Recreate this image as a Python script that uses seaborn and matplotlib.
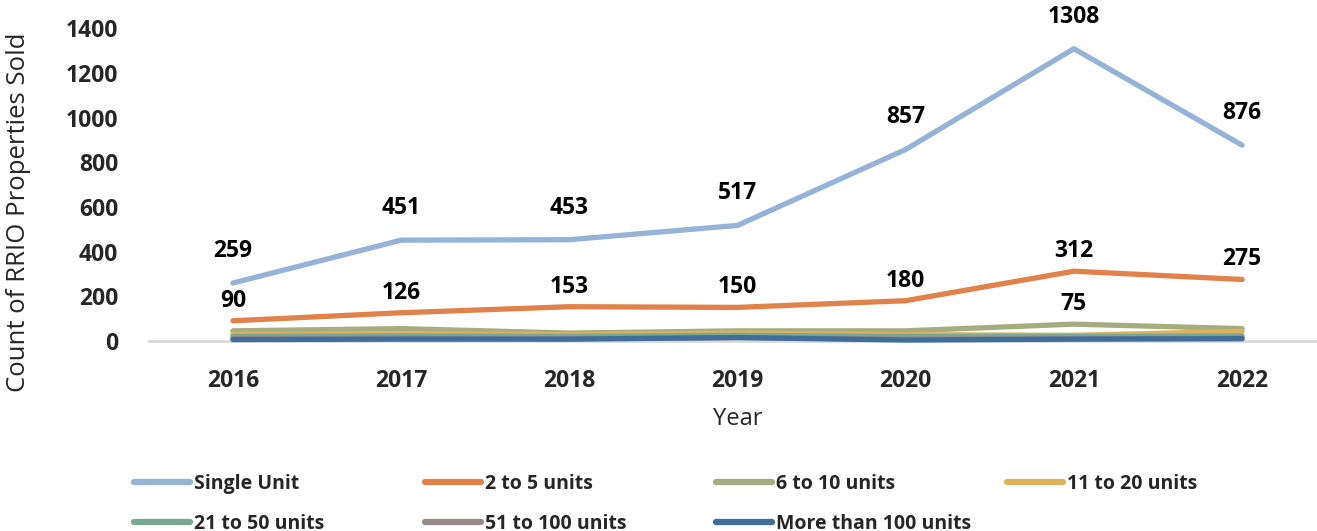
import numpy as np
import pandas as pd
import matplotlib
matplotlib.use("Agg")
import matplotlib.pyplot as plt
import seaborn as sns

years = [2016, 2017, 2018, 2019, 2020, 2021, 2022]
series_names = ["Single Unit", "2 to 5 units", "6 to 10 units", "11 to 20 units",
                "21 to 50 units", "51 to 100 units", "More than 100 units"]
single_unit = [259, 451, 453, 517, 857, 1308, 876]
units_2_5 = [90, 126, 153, 150, 180, 312, 275]
units_6_10 = [45, 55, 35, 45, 45, 75, 55]
units_11_20 = [30, 32, 28, 35, 28, 25, 43]
units_21_50 = [20, 22, 20, 25, 20, 20, 22]
units_51_100 = [10, 12, 10, 15, 8, 10, 12]
units_100_plus = [6, 8, 8, 15, 4, 8, 10]
colors = ["#95B3D7", "#E0824A", "#A5AC80", "#DDB25B", "#7AA897", "#978A88", "#3E6E99"]

all_vals = [single_unit, units_2_5, units_6_10, units_11_20, units_21_50, units_51_100, units_100_plus]
rows = []
for name, vals in zip(series_names, all_vals):
    for y, v in zip(years, vals):
        rows.append({"Year": y, "Count": v, "Type": name})
df = pd.DataFrame(rows)

sns.set_theme(style="white")
plt.rcParams["font.family"] = ["Open Sans", "DejaVu Sans"]

fig = plt.figure(figsize=(13.17, 5.31), dpi=100)
ax = fig.add_axes([0.113, 0.358, 0.894, 0.589])

sns.lineplot(data=df, x="Year", y="Count", hue="Type", hue_order=series_names,
             palette=colors, linewidth=3.8, ax=ax, legend=False, zorder=3)
for line in ax.lines:
    line.set_clip_on(False)
    line.set_solid_capstyle("round")
    line.set_solid_joinstyle("round")

ax.set_xlim(2015.5, 2022.5)
ax.set_ylim(0, 1400)
ax.set_yticks(range(0, 1401, 200))
ax.set_xticks(years)
ax.tick_params(axis="x", length=0, pad=20, labelsize=16.5)
ax.tick_params(axis="y", length=0, pad=22, labelsize=16.5)
for t in ax.get_xticklabels() + ax.get_yticklabels():
    t.set_fontweight("bold")
for s in ["top", "right", "left"]:
    ax.spines[s].set_visible(False)
ax.spines["bottom"].set_color("#D9D9D9")
ax.spines["bottom"].set_linewidth(2)
ax.set_xlabel("Year", fontsize=17, labelpad=10)
ax.set_ylabel("Count of RRIO Properties Sold", fontsize=18.5)
ax.yaxis.set_label_coords(-0.1, 0.41)

# data labels
for y, v in zip(years, single_unit):
    ax.annotate(str(v), (y, v), xytext=(0, 32), textcoords="offset pixels",
                ha="center", va="center", fontsize=16.5, fontweight="bold", color="black")
for y, v in zip(years, units_2_5):
    ax.annotate(str(v), (y, v), xytext=(0, 20), textcoords="offset pixels",
                ha="center", va="center", fontsize=16.5, fontweight="bold", color="black")
ax.annotate(str(units_6_10[5]), (years[5], units_6_10[5]), xytext=(0, 20), textcoords="offset pixels",
            ha="center", va="center", fontsize=16.5, fontweight="bold", color="black")

# legend, one column at a time so the column starts are evenly spaced
handles = [plt.Line2D([], [], color=c, linewidth=4.5, solid_capstyle="round") for c in colors]
col_x = [0.1015, 0.3225, 0.5435, 0.7645]
for j in range(4):
    idx = [j, j + 4] if j + 4 < len(series_names) else [j]
    fig.legend([handles[i] for i in idx], [series_names[i] for i in idx],
               loc="upper left", bbox_to_anchor=(col_x[j], 0.107), frameon=False,
               handlelength=2.9, handletextpad=0.2, labelspacing=1.0,
               prop={"weight": "bold", "size": 14}, borderaxespad=0, borderpad=0)

fig.savefig("out.png", dpi=100)
